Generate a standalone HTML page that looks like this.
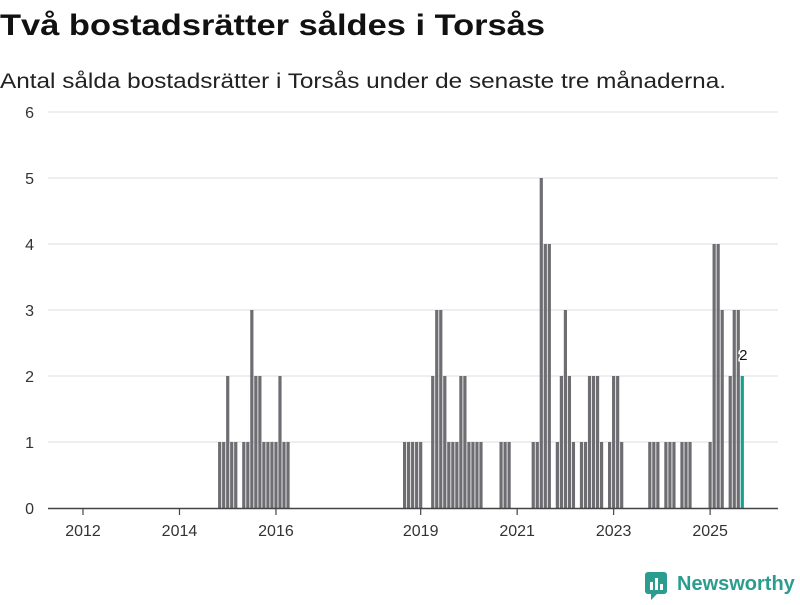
<!DOCTYPE html>
<html><head><meta charset="utf-8"><style>
body{margin:0;background:#fff;width:800px;height:600px;overflow:hidden;font-family:"Liberation Sans",sans-serif}
</style></head><body>
<svg width="800" height="600" xmlns="http://www.w3.org/2000/svg" id="chart">
<text x="0" y="35" font-size="30" font-weight="bold" fill="#111" textLength="545" lengthAdjust="spacingAndGlyphs">Två bostadsrätter såldes i Torsås</text>
<text x="0" y="88" font-size="21" fill="#222" textLength="726" lengthAdjust="spacingAndGlyphs">Antal sålda bostadsrätter i Torsås under de senaste tre månaderna.</text>
<g id="grid"></g>
<g id="bars"></g>
<g id="axes"></g>
<g>
<rect x="645" y="572" width="22" height="22" rx="3" fill="#2a9d8f"/>
<rect x="650" y="582" width="3" height="8" fill="#fff"/><rect x="655" y="578" width="3" height="12" fill="#fff"/><rect x="660" y="584" width="3" height="6" fill="#fff"/>
<polygon points="651,594 657,594 651,600" fill="#2a9d8f"/>
<text x="677" y="590" font-size="20" font-weight="bold" fill="#2a9d8f">Newsworthy</text>
</g>
</svg>
<script>
const months=["2014-11","2014-12","2015-01","2015-02","2015-03","2015-05","2015-06","2015-07","2015-08","2015-09","2015-10","2015-11","2015-12","2016-01","2016-02","2016-03","2016-04","2018-09","2018-10","2018-11","2018-12","2019-01","2019-04","2019-05","2019-06","2019-07","2019-08","2019-09","2019-10","2019-11","2019-12","2020-01","2020-02","2020-03","2020-04","2020-09","2020-10","2020-11","2021-05","2021-06","2021-07","2021-08","2021-09","2021-11","2021-12","2022-01","2022-02","2022-03","2022-05","2022-06","2022-07","2022-08","2022-09","2022-10","2022-12","2023-01","2023-02","2023-03","2023-10","2023-11","2023-12","2024-02","2024-03","2024-04","2024-06","2024-07","2024-08","2025-01","2025-02","2025-03","2025-04","2025-06","2025-07","2025-08","2025-09"];
const values=[1,1,2,1,1,1,1,3,2,2,1,1,1,1,2,1,1,1,1,1,1,1,2,3,3,2,1,1,1,2,2,1,1,1,1,1,1,1,1,1,5,4,4,1,2,3,2,1,1,1,2,2,2,1,1,2,2,1,1,1,1,1,1,1,1,1,1,1,4,4,3,2,3,3,2];
const yTicks=[0,1,2,3,4,5,6];
const xTickYears=[2012,2014,2016,2019,2021,2023,2025];
const NS="http://www.w3.org/2000/svg";
function mIdx(s){const[y,m]=s.split("-").map(Number);return (y-2012)*12+(m-1);}
function xS(m){return 82+m*4.02;}
function yS(v){return 508-v*66;}
function mk(t,a,p){const e=document.createElementNS(NS,t);for(const k in a)e.setAttribute(k,a[k]);p.appendChild(e);return e;}
const grid=document.getElementById("grid"),bars=document.getElementById("bars"),axes=document.getElementById("axes");
yTicks.forEach(v=>{
 if(v>0){const l=mk("line",{x1:48,x2:778,y1:yS(v),y2:yS(v),stroke:"#dddddd","stroke-width":1},grid);
 
 }
 const t=mk("text",{x:34,y:yS(v)+6,"font-size":16,fill:"#333","text-anchor":"end"},axes);t.textContent=v;
 
 
});
months.forEach((s,i)=>{
 const last=i===months.length-1;
 const cx=xS(mIdx(s))+1;
 const r=mk("rect",{x:cx-1.6,y:yS(values[i]),width:3.2,height:values[i]*66,fill:last?"#1a9e8f":"#6d6d72"},bars);
 
 
 if(last){const t=mk("text",{x:cx+1,y:yS(values[i])-16,"font-size":15,fill:"#111","text-anchor":"middle",stroke:"#fff","stroke-width":3,"paint-order":"stroke"},bars);t.textContent=values[i];
 
 }
});
const ax=mk("line",{x1:48,x2:778,y1:508.5,y2:508.5,stroke:"#444","stroke-width":1.5},axes);


xTickYears.forEach(y=>{
 const x=xS((y-2012)*12)+1;
 const tk=mk("line",{x1:x,x2:x,y1:509,y2:515,stroke:"#444","stroke-width":1.2},axes);
 
 
 const t=mk("text",{x:x,y:536,"font-size":16,fill:"#333","text-anchor":"middle"},axes);t.textContent=y;
 
 
});
</script>
</body></html>
